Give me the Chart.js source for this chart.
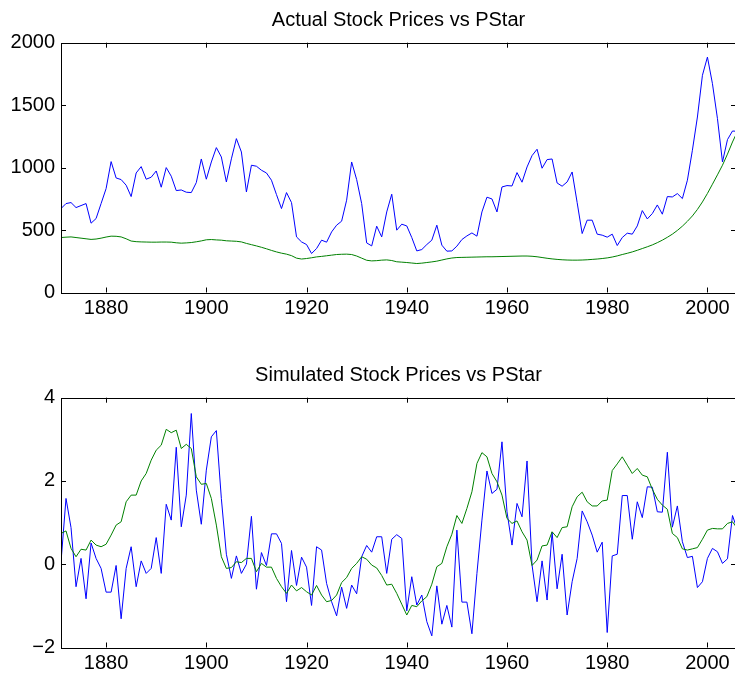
<!DOCTYPE html>
<html lang="en">
<head>
<meta charset="UTF-8">
<title>Actual and Simulated Stock Prices vs PStar</title>
<script src="https://cdn.jsdelivr.net/npm/chart.js"></script>
<style>
  html, body { margin: 0; padding: 0; background: #fff; overflow: hidden; }
  .plot { position: absolute; left: 0; width: 737px; height: 340px; }
  #top { top: 0; }
  #bottom { top: 355px; }
</style>
</head>
<body>
<div class="plot" id="top"><canvas id="actualChart" width="737" height="340"></canvas></div>
<div class="plot" id="bottom"><canvas id="simChart" width="737" height="340"></canvas></div>

<script>
// years on the x axis
const years = [
  1871, 1872, 1873, 1874, 1875, 1876, 1877, 1878, 1879,
  1880, 1881, 1882, 1883, 1884, 1885, 1886, 1887, 1888, 1889,
  1890, 1891, 1892, 1893, 1894, 1895, 1896, 1897, 1898, 1899,
  1900, 1901, 1902, 1903, 1904, 1905, 1906, 1907, 1908, 1909,
  1910, 1911, 1912, 1913, 1914, 1915, 1916, 1917, 1918, 1919,
  1920, 1921, 1922, 1923, 1924, 1925, 1926, 1927, 1928, 1929,
  1930, 1931, 1932, 1933, 1934, 1935, 1936, 1937, 1938, 1939,
  1940, 1941, 1942, 1943, 1944, 1945, 1946, 1947, 1948, 1949,
  1950, 1951, 1952, 1953, 1954, 1955, 1956, 1957, 1958, 1959,
  1960, 1961, 1962, 1963, 1964, 1965, 1966, 1967, 1968, 1969,
  1970, 1971, 1972, 1973, 1974, 1975, 1976, 1977, 1978, 1979,
  1980, 1981, 1982, 1983, 1984, 1985, 1986, 1987, 1988, 1989,
  1990, 1991, 1992, 1993, 1994, 1995, 1996, 1997, 1998, 1999,
  2000, 2001, 2002, 2003, 2004, 2005, 2006
];

// top panel: actual (real) stock price index
const actualPrice = [
  672, 712, 720, 680, 696, 712, 555, 592, 712,
  832, 1048, 917, 904, 859, 768, 957, 1008, 907, 923,
  973, 843, 1000, 931, 816, 821, 803, 800, 880, 1069,
  907, 1045, 1160, 1085, 885, 1070, 1232, 1125, 805, 1019,
  1011, 979, 957, 899, 784, 672, 800, 720, 445, 405,
  384, 312, 352, 419, 403, 485, 539, 571, 739, 1045,
  904, 712, 397, 373, 531, 445, 645, 787, 499, 547,
  533, 440, 333, 344, 384, 419, 539, 379, 331, 333,
  371, 424, 453, 477, 451, 645, 763, 749, 645, 845,
  856, 853, 960, 883, 1005, 1096, 1147, 995, 1064, 1069,
  877, 851, 885, 965, 720, 472, 579, 579, 467, 459,
  443, 467, 376, 440, 475, 467, 533, 656, 589, 632,
  701, 627, 768, 765, 792, 752, 899, 1139, 1405, 1739,
  1885, 1672, 1392, 1045, 1224, 1293, 1290
];

// top panel: PStar (ex-post rational price)
const actualPStar = [
  440, 443, 445, 440, 435, 430, 425, 428, 435,
  444, 451, 450, 445, 430, 412, 407, 405, 404, 403,
  403, 404, 404, 403, 398, 395, 397, 400, 406, 413,
  422, 424, 421, 419, 414, 412, 410, 405, 393, 383,
  373, 362, 350, 337, 325, 315, 307, 295, 275, 268,
  272, 278, 285, 289, 294, 299, 304, 306, 307, 304,
  292, 275, 258, 253, 255, 259, 261, 256, 246, 243,
  240, 236, 232, 235, 240, 245, 251, 260, 269, 276,
  280, 281, 282, 283, 284, 285, 286, 286, 287, 288,
  289, 290, 291, 292, 292, 290, 286, 280, 274, 269,
  265, 262, 260, 259, 259, 260, 262, 265, 268, 272,
  277, 284, 293, 304, 314, 325, 338, 352, 366, 381,
  399, 419, 442, 467, 497, 531, 570, 613, 665, 725,
  793, 867, 942, 1019, 1108, 1205, 1290
];

// bottom panel: simulated price
const simPrice = [
  0.05, 1.58, 0.88, -0.54, 0.14, -0.83, 0.51, 0.14, -0.10,
  -0.67, -0.67, -0.03, -1.31, -0.10, 0.42, -0.54, 0.08, -0.22, -0.10,
  0.64, -0.22, 1.44, 1.06, 2.81, 0.90, 1.66, 3.62, 1.78, 0.96,
  2.26, 3.06, 3.21, 1.58, 0.24, -0.34, 0.20, -0.22, 0.00, 1.15,
  -0.60, 0.28, -0.03, 0.73, 0.73, 0.50, -0.90, 0.33, -0.51, 0.17,
  -0.07, -0.99, 0.42, 0.34, -0.46, -0.90, -1.24, -0.55, -1.06, -0.50,
  -0.71, 0.18, 0.45, 0.29, 0.66, 0.66, -0.22, 0.60, 0.71, 0.62,
  -1.12, -0.30, -0.98, -0.74, -1.38, -1.72, -0.52, -1.44, -0.99, -1.51,
  0.82, -0.91, -0.91, -1.67, -0.22, 1.06, 2.24, 1.70, 1.80, 2.94,
  1.26, 0.46, 1.46, 1.14, 2.48, -0.02, -0.90, 0.08, -0.86, 0.77,
  -0.59, 0.24, -1.22, -0.42, 0.14, 1.28, 1.02, 0.70, 0.29, 0.53,
  -1.64, 0.20, 0.24, 1.65, 1.65, 0.60, 1.50, 1.12, 1.86, 1.85,
  1.26, 1.25, 2.69, 0.89, 1.40, 0.54, 0.16, 0.19, -0.56, -0.42,
  0.14, 0.38, 0.30, 0.02, 0.13, 1.17, 0.82
];

// bottom panel: PStar
const simPStar = [
  0.74, 0.80, 0.38, 0.18, 0.36, 0.34, 0.58, 0.46, 0.42,
  0.48, 0.70, 0.94, 1.02, 1.50, 1.66, 1.66, 2.00, 2.18, 2.50,
  2.74, 2.86, 3.24, 3.16, 3.22, 2.78, 2.88, 2.78, 2.10, 1.92,
  1.94, 1.58, 0.94, 0.18, -0.10, -0.08, 0.06, 0.04, 0.14, 0.14,
  -0.18, 0.02, -0.07, -0.07, -0.34, -0.54, -0.70, -0.50, -0.64, -0.56,
  -0.66, -0.74, -0.51, -0.74, -0.90, -0.87, -0.74, -0.44, -0.32, -0.10,
  0.02, 0.18, 0.12, -0.02, -0.09, -0.27, -0.50, -0.48, -0.70, -0.96,
  -1.22, -0.99, -1.02, -0.88, -0.78, -0.48, -0.06, 0.02, 0.42, 0.72,
  1.17, 0.98, 1.34, 1.74, 2.42, 2.68, 2.58, 2.18, 1.98, 1.66,
  1.10, 0.98, 1.04, 0.78, 0.58, -0.03, 0.10, 0.44, 0.46, 0.78,
  0.64, 0.88, 0.90, 1.38, 1.62, 1.73, 1.50, 1.40, 1.40, 1.52,
  1.54, 2.25, 2.41, 2.58, 2.38, 2.18, 2.30, 2.14, 2.10, 1.80,
  1.56, 1.42, 1.32, 0.74, 0.64, 0.37, 0.34, 0.37, 0.40, 0.60,
  0.82, 0.86, 0.85, 0.85, 0.98, 1.02, 0.85
];

const xTicks = [1880, 1900, 1920, 1940, 1960, 1980, 2000];
const actualTicks = [0, 500, 1000, 1500, 2000];
const simTicks = [-2, 0, 2, 4];

const fontFamily = '"Liberation Sans", Arial, Helvetica, sans-serif';

// matlab style box with inward ticks on all four sides
const boxPlugin = {
  id: 'boxTicks',
  afterDraw(chart) {
    const ctx = chart.ctx;
    const a = chart.chartArea;
    const x = chart.scales.x, y = chart.scales.y;
    const len = 5;
    ctx.save();
    ctx.strokeStyle = '#000';
    ctx.lineWidth = 1;
    ctx.strokeRect(Math.round(a.left) + 0.5, Math.round(a.top) + 0.5,
                   Math.round(a.right - a.left), Math.round(a.bottom - a.top));
    ctx.beginPath();
    x.ticks.forEach(t => {
      const px = Math.round(x.getPixelForValue(t.value)) + 0.5;
      ctx.moveTo(px, a.bottom); ctx.lineTo(px, a.bottom - len);
      ctx.moveTo(px, a.top); ctx.lineTo(px, a.top + len);
    });
    y.ticks.forEach(t => {
      const py = Math.round(y.getPixelForValue(t.value)) + 0.5;
      ctx.moveTo(a.left, py); ctx.lineTo(a.left + len, py);
      ctx.moveTo(a.right, py); ctx.lineTo(a.right - len, py);
    });
    ctx.stroke();
    ctx.restore();
  }
};

function toPoints(vals) {
  return years.map((yr, i) => ({ x: yr, y: vals[i] }));
}

function drawPanel(id, title, priceVals, pstarVals, yTicks) {
  const ctx = document.getElementById(id).getContext('2d');
  return new Chart(ctx, {
    type: 'line',
    data: {
      datasets: [
        { label: 'Price', data: toPoints(priceVals), borderColor: '#0000ff',
          borderWidth: 1, pointRadius: 0, tension: 0, fill: false, order: 1 },
        { label: 'PStar', data: toPoints(pstarVals), borderColor: '#008000',
          borderWidth: 1, pointRadius: 0, tension: 0, fill: false, order: 0 }
      ]
    },
    options: {
      responsive: false,
      animation: false,
      layout: { padding: { left: 0, right: 1, top: 0, bottom: 0 } },
      plugins: {
        legend: { display: false },
        tooltip: { enabled: false },
        title: {
          display: true,
          text: title,
          fullSize: false,   // centre over the plot box, not the canvas
          color: '#000',
          font: { family: fontFamily, size: 20, weight: 'normal', lineHeight: 1.2 },
          padding: { top: 8, bottom: 10.7 }
        }
      },
      scales: {
        x: {
          type: 'linear',
          min: 1871,
          max: 2005.7,
          grid: { display: false, drawTicks: false },
          border: { display: false },
          afterBuildTicks: s => { s.ticks = xTicks.map(v => ({ value: v })); },
          afterFit: s => { s.height = 47.5; },
          ticks: {
            color: '#000',
            font: { family: fontFamily, size: 20 },
            padding: 4,
            maxRotation: 0,
            autoSkip: false,
            callback: v => String(v)
          }
        },
        y: {
          min: yTicks[0],
          max: yTicks[yTicks.length - 1],
          grid: { display: false, drawTicks: false },
          border: { display: false },
          afterBuildTicks: s => { s.ticks = yTicks.map(v => ({ value: v })); },
          afterFit: s => { s.width = 61; },
          ticks: {
            color: '#000',
            font: { family: fontFamily, size: 20 },
            padding: 6,
            callback: v => v < 0 ? '\u2212' + Math.abs(v) : String(v)
          }
        }
      }
    },
    plugins: [boxPlugin]
  });
}

drawPanel('actualChart', 'Actual Stock Prices vs PStar', actualPrice, actualPStar, actualTicks);
drawPanel('simChart', 'Simulated Stock Prices vs PStar', simPrice, simPStar, simTicks);
</script>
</body>
</html>
